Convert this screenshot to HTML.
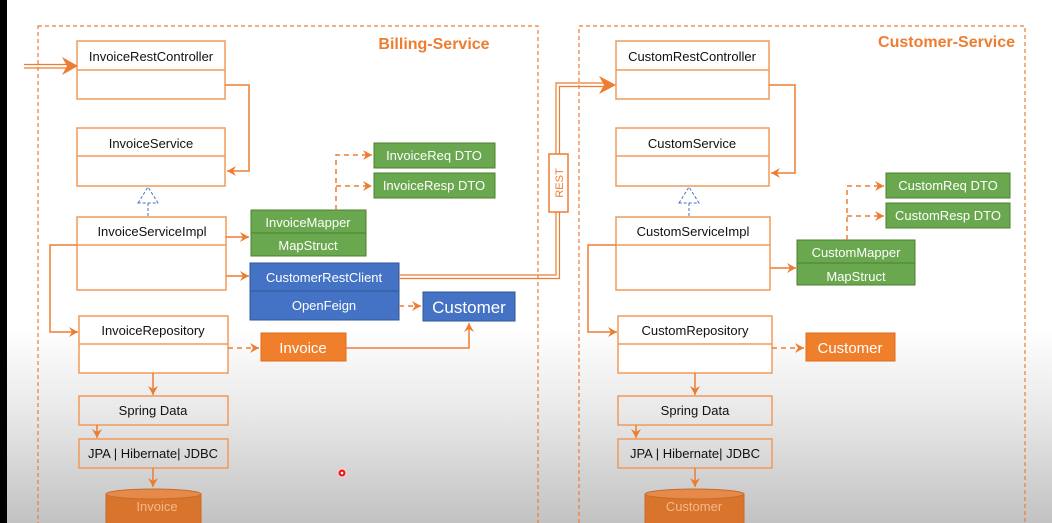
<!DOCTYPE html>
<html><head><meta charset="utf-8"><style>
html,body{margin:0;padding:0;width:1052px;height:523px;overflow:hidden}
body{background:linear-gradient(to bottom,#ffffff 0px,#ffffff 330px,#e6e6e6 420px,#c2c2c2 523px)}
svg{position:absolute;left:0;top:0}
text{font-family:"Liberation Sans",sans-serif}
</style></head><body>
<svg width="1052" height="523" viewBox="0 0 1052 523">
<defs>
<marker id="a" markerWidth="10" markerHeight="10" refX="9" refY="5" orient="auto" markerUnits="userSpaceOnUse"><path d="M0,0 L9,5 L0,10 L3,5 Z" fill="#ed7d31"/></marker>
</defs>
<rect x="0" y="0" width="7" height="523" fill="#000"/>
<g fill="none" stroke="#ed7d31" stroke-width="1.2" stroke-dasharray="4,3">
<rect x="38" y="26" width="500" height="520"/>
<rect x="579" y="26" width="446" height="520"/>
</g>
<text x="434" y="49" font-size="16" font-weight="bold" fill="#ed7d31" text-anchor="middle">Billing-Service</text>
<text x="1015" y="47" font-size="16" font-weight="bold" fill="#ed7d31" text-anchor="end">Customer-Service</text>

<g fill="#fff" stroke="#f19a5a" stroke-width="1.5">
<rect x="77" y="41" width="148" height="58"/><line x1="77" y1="70" x2="225" y2="70"/>
<rect x="77" y="128" width="148" height="58"/><line x1="77" y1="156" x2="225" y2="156"/>
<rect x="77" y="217" width="149" height="73"/><line x1="77" y1="245" x2="226" y2="245"/>
<rect x="79" y="316" width="149" height="57"/><line x1="79" y1="344" x2="228" y2="344"/>
<rect x="79" y="396" width="149" height="29" fill="none"/>
<rect x="79" y="439" width="149" height="29" fill="none"/>
<rect x="616" y="41" width="153" height="58"/><line x1="616" y1="70" x2="769" y2="70"/>
<rect x="616" y="128" width="153" height="58"/><line x1="616" y1="156" x2="769" y2="156"/>
<rect x="616" y="217" width="154" height="73"/><line x1="616" y1="245" x2="770" y2="245"/>
<rect x="618" y="316" width="154" height="57"/><line x1="618" y1="344" x2="772" y2="344"/>
<rect x="618" y="396" width="154" height="29" fill="none"/>
<rect x="618" y="439" width="154" height="29" fill="none"/>
</g>
<g font-size="13" fill="#111" text-anchor="middle">
<text x="151" y="61">InvoiceRestController</text>
<text x="151" y="148">InvoiceService</text>
<text x="152" y="236">InvoiceServiceImpl</text>
<text x="153" y="335">InvoiceRepository</text>
<text x="153" y="415">Spring Data</text>
<text x="153" y="458">JPA | Hibernate| JDBC</text>
<text x="692" y="61">CustomRestController</text>
<text x="692" y="148">CustomService</text>
<text x="693" y="236">CustomServiceImpl</text>
<text x="695" y="335">CustomRepository</text>
<text x="695" y="415">Spring Data</text>
<text x="695" y="458">JPA | Hibernate| JDBC</text>
</g>

<g fill="#d9742c" stroke="#c96a28">
<path d="M106,494 V530 H201 V494 Z"/><ellipse cx="153.5" cy="494" rx="47.5" ry="5" fill="#e58a4a"/>
<path d="M645,494 V530 H744 V494 Z"/><ellipse cx="694.5" cy="494" rx="49.5" ry="5" fill="#e58a4a"/>
</g>
<text x="157" y="511" font-size="13" fill="#f3b98e" text-anchor="middle">Invoice</text>
<text x="694" y="511" font-size="13" fill="#f3b98e" text-anchor="middle">Customer</text>

<g stroke="#4e7f2e" stroke-width="1">
<rect x="251" y="210" width="115" height="46" fill="#6aa84f"/><line x1="251" y1="233" x2="366" y2="233"/>
<rect x="374" y="143" width="121" height="25" fill="#6aa84f"/>
<rect x="374" y="173" width="121" height="25" fill="#6aa84f"/>
<rect x="797" y="240" width="118" height="45" fill="#6aa84f"/><line x1="797" y1="263" x2="915" y2="263"/>
<rect x="886" y="173" width="124" height="25" fill="#6aa84f"/>
<rect x="886" y="203" width="124" height="25" fill="#6aa84f"/>
</g>
<g stroke="#2f5597" stroke-width="1">
<rect x="250" y="263" width="149" height="57" fill="#4472c4"/><line x1="250" y1="291" x2="399" y2="291"/>
<rect x="423" y="292" width="92" height="29" fill="#4472c4"/>
</g>
<rect x="261" y="333" width="85" height="28" fill="#f07f2c" stroke="#e06b1c"/>
<rect x="806" y="333" width="89" height="28" fill="#f07f2c" stroke="#e06b1c"/>
<g font-size="13" fill="#fff" text-anchor="middle">
<text x="308" y="227">InvoiceMapper</text>
<text x="308" y="250">MapStruct</text>
<text x="434" y="160">InvoiceReq DTO</text>
<text x="434" y="190">InvoiceResp DTO</text>
<text x="856" y="257">CustomMapper</text>
<text x="856" y="281">MapStruct</text>
<text x="948" y="190">CustomReq DTO</text>
<text x="948" y="220">CustomResp DTO</text>
<text x="324" y="282">CustomerRestClient</text>
<text x="324" y="310">OpenFeign</text>
<text x="469" y="313" font-size="17">Customer</text>
<text x="303" y="353" font-size="15">Invoice</text>
<text x="850" y="353" font-size="15">Customer</text>
</g>

<g fill="none" stroke="#ed7d31" stroke-width="1.5">
<path d="M225,85 H249 V171 H227" marker-end="url(#a)"/>
<path d="M769,85 H795 V173 H771" marker-end="url(#a)"/>
<path d="M226,237 H249" marker-end="url(#a)"/>
<path d="M226,276 H249" marker-end="url(#a)"/>
<path d="M770,268 H796" marker-end="url(#a)"/>
<path d="M77,245 H50 V332 H78" marker-end="url(#a)"/>
<path d="M616,245 H588 V332 H617" marker-end="url(#a)"/>
<path d="M346,348 H469 V323" marker-end="url(#a)"/>
<path d="M153,373 V395" marker-end="url(#a)"/>
<path d="M97,425 V438" marker-end="url(#a)"/>
<path d="M153,468 V487" marker-end="url(#a)"/>
<path d="M695,373 V395" marker-end="url(#a)"/>
<path d="M636,425 V438" marker-end="url(#a)"/>
<path d="M695,468 V487" marker-end="url(#a)"/>
</g>
<g fill="none" stroke="#ed7d31" stroke-width="1.2">
<path d="M24,64.5 H70 M24,68 H70"/>
<path d="M399,275 H556 V83 H608 M399,278.5 H559.5 V86.5 H608"/>
</g>
<path d="M62,57 L78,66 L62,75 L67,66 Z" fill="#ed7d31"/>
<path d="M599,76 L616,85 L599,94 L604,85 Z" fill="#ed7d31"/>
<rect x="549" y="154" width="19" height="58" fill="#fff" stroke="#ed7d31" stroke-width="1.5"/>
<text x="0" y="0" font-size="11" fill="#ed7d31" text-anchor="middle" transform="translate(563,183) rotate(-90)">REST</text>

<g fill="none" stroke="#ed7d31" stroke-width="1.5" stroke-dasharray="5,4">
<path d="M336,210 V155 H372" marker-end="url(#a)"/>
<path d="M336,186 H372" marker-end="url(#a)"/>
<path d="M847,240 V186 H884" marker-end="url(#a)"/>
<path d="M847,216 H884" marker-end="url(#a)"/>
<path d="M399,306 H421" marker-end="url(#a)"/>
<path d="M228,348 H259" marker-end="url(#a)"/>
<path d="M772,348 H804" marker-end="url(#a)"/>
</g>
<g fill="none" stroke="#4472c4" stroke-width="1" stroke-dasharray="3,2">
<path d="M148,216 V203 M138,203 L148,187 L158,203 Z"/>
<path d="M689,216 V203 M679,203 L689,187 L699,203 Z"/>
</g>
<circle cx="342" cy="473" r="5" fill="#ffcccc"/><circle cx="342" cy="473" r="3.5" fill="#e02020"/><circle cx="342" cy="473" r="1.3" fill="#fff"/>
</svg>
</body></html>
